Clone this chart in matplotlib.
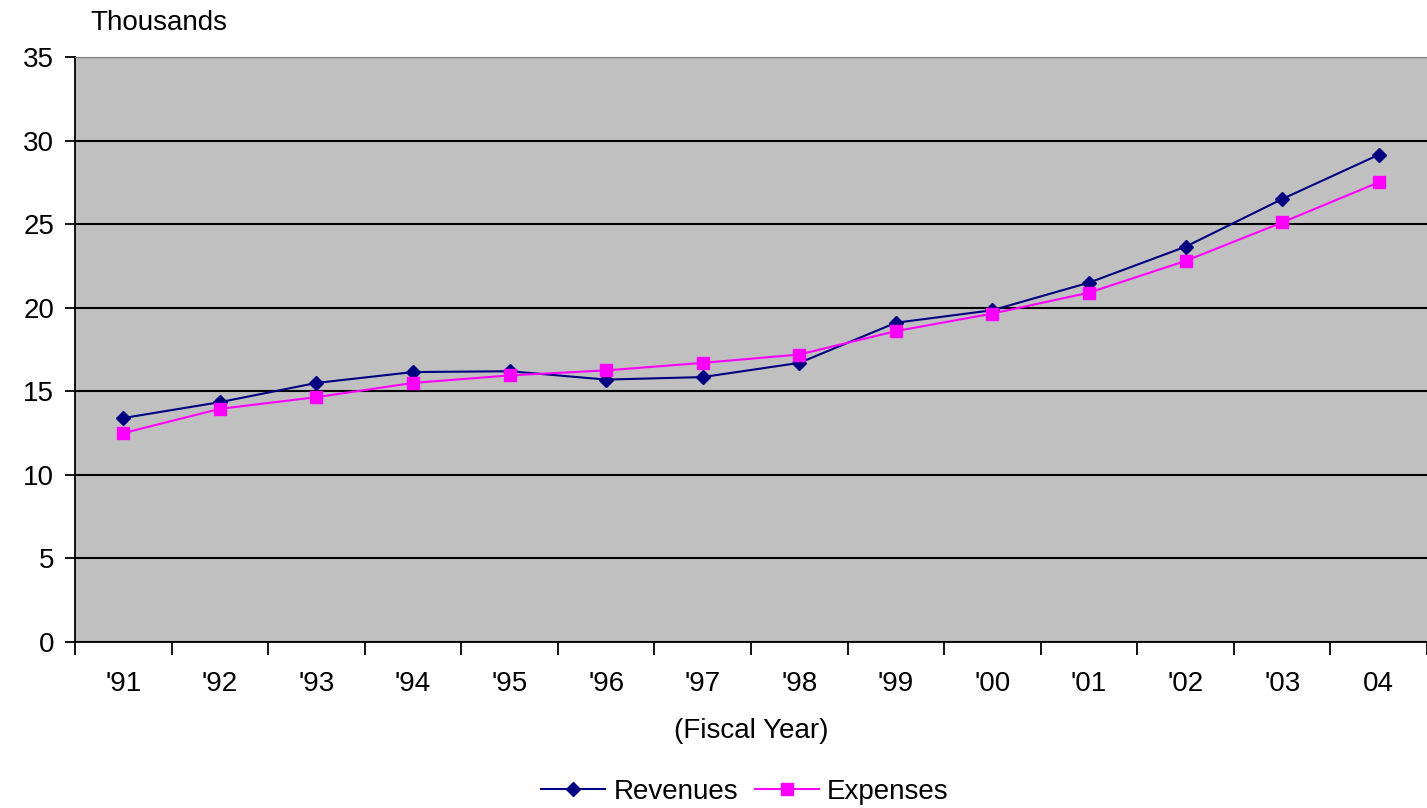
import numpy as np
import matplotlib
matplotlib.use('Agg')
import matplotlib.pyplot as plt
from matplotlib.ticker import FixedLocator, NullFormatter

plt.rcParams['font.family'] = ['Liberation Sans', 'DejaVu Sans']

years = ["'91", "'92", "'93", "'94", "'95", "'96", "'97", "'98", "'99", "'00", "'01", "'02", "'03", "04"]
revenues = [13.4, 14.35, 15.5, 16.15, 16.2, 15.7, 15.85, 16.7, 19.1, 19.85, 21.5, 23.65, 26.5, 29.15]
expenses = [12.5, 13.95, 14.65, 15.5, 15.95, 16.25, 16.7, 17.2, 18.6, 19.65, 20.9, 22.8, 25.1, 27.5]

fig = plt.figure(figsize=(14.27, 8.08), dpi=100)
ax = fig.add_axes([0.0526, 0.2054, 0.9474, 0.7241])
ax.set_facecolor('#C0C0C0')

x = np.arange(len(years))
ax.plot(x, revenues, color='#000080', lw=1.5, marker='D', ms=7, label='Revenues', zorder=3)
ax.plot(x, expenses, color='#FF00FF', lw=1.5, marker='s', ms=8, label='Expenses', zorder=3)

ax.set_xlim(-0.5, len(years) - 0.5)
ax.set_ylim(0, 35)
ax.set_yticks(np.arange(0, 36, 5))
ax.yaxis.grid(True, color='black', lw=1.5)
ax.set_axisbelow(True)

# tick marks between categories, labels at category centres
ax.xaxis.set_major_locator(FixedLocator(np.arange(-0.5, len(years), 1.0)))
ax.xaxis.set_major_formatter(NullFormatter())
ax.xaxis.set_minor_locator(FixedLocator(x))
ax.set_xticklabels(years, minor=True)
ax.tick_params(axis='x', which='major', direction='out', length=9, width=1.3, color='black')
ax.tick_params(axis='x', which='minor', length=0, pad=21, labelsize=20)
ax.tick_params(axis='y', direction='out', length=7, width=1.3, labelsize=20, pad=8)

ax.spines['right'].set_visible(False)
ax.spines['top'].set_color('#808080')
ax.spines['left'].set_linewidth(1.3)
ax.spines['bottom'].set_linewidth(1.3)

ax.set_xlabel('(Fiscal Year)', fontsize=20, labelpad=15)
fig.text(0.0635, 0.972, 'Thousands', fontsize=20, va='center', ha='left')

fig.legend(loc='center', bbox_to_anchor=(0.522, 0.02), ncol=2, frameon=False,
           fontsize=20, handlelength=2.3, columnspacing=0.6, handletextpad=0.3,
           borderpad=0, borderaxespad=0)

fig.savefig('out.png', dpi=100)
